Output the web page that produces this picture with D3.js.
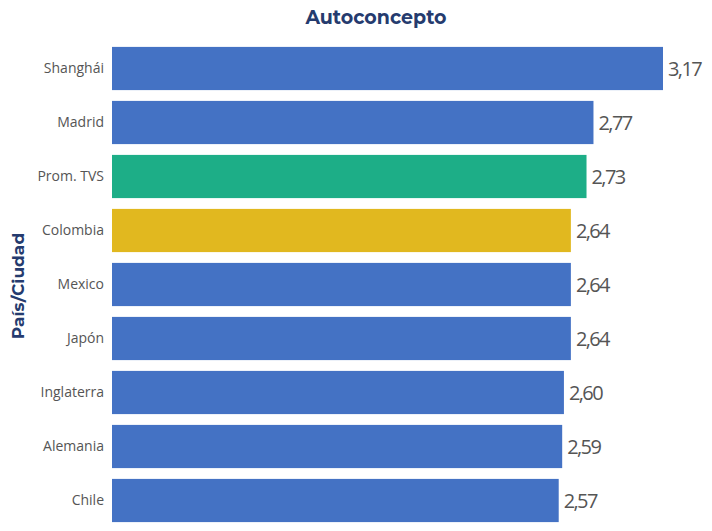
<!DOCTYPE html>
<html>
<head>
<meta charset="utf-8">
<script src="https://cdn.jsdelivr.net/npm/d3@7"></script>
<style>
  body { margin: 0; background: #fff; }
  svg { display: block; }
</style>
</head>
<body>
<svg id="chart" width="712" height="531"></svg>
<script>
const categories = ["Shanghái", "Madrid", "Prom. TVS", "Colombia", "Mexico", "Japón", "Inglaterra", "Alemania", "Chile"];
const values = [3.17, 2.77, 2.73, 2.64, 2.64, 2.64, 2.60, 2.59, 2.57];
const barColors = ["#4472C4", "#4472C4", "#1DAE87", "#E1B81F", "#4472C4", "#4472C4", "#4472C4", "#4472C4", "#4472C4"];

const svg = d3.select("#chart");
const x0 = 112;

const x = d3.scaleLinear().domain([0, 3.17]).range([x0, 663]);
const y = d3.scaleBand().domain(categories).range([41.5, 527.5]).paddingInner(0.2).paddingOuter(0.1);

const fmt = v => d3.format(".2f")(v).replace(".", ",");

svg.append("text")
  .attr("x", 376).attr("y", 24)
  .attr("text-anchor", "middle")
  .attr("font-family", "Montserrat, Lato, 'Open Sans', sans-serif")
  .attr("font-weight", "bold")
  .attr("font-size", 19)
  .attr("fill", "#253B6E")
  .text("Autoconcepto");

svg.append("text")
  .attr("transform", "translate(24,286) rotate(-90)")
  .attr("text-anchor", "middle")
  .attr("font-family", "Montserrat, Lato, 'Open Sans', sans-serif")
  .attr("font-weight", "bold")
  .attr("font-size", 17)
  .attr("fill", "#253B6E")
  .text("País/Ciudad");

svg.selectAll("rect.bar")
  .data(categories)
  .join("rect")
  .attr("class", "bar")
  .attr("x", x0)
  .attr("y", d => y(d))
  .attr("width", (d, i) => x(values[i]) - x0)
  .attr("height", y.bandwidth())
  .attr("fill", (d, i) => barColors[i]);

const yAxis = svg.append("g")
  .attr("transform", `translate(${x0 - 4},0)`)
  .call(d3.axisLeft(y).tickSize(0).tickPadding(4));
yAxis.select(".domain").remove();
yAxis.selectAll("text")
  .attr("font-family", "'Open Sans', sans-serif")
  .attr("font-size", 14)
  .attr("fill", "#555");

svg.selectAll("text.val")
  .data(categories)
  .join("text")
  .attr("class", "val")
  .attr("x", (d, i) => x(values[i]) + 5)
  .attr("y", d => y(d) + y.bandwidth() / 2)
  .attr("dy", "0.35em")
  .attr("font-family", "'Open Sans', sans-serif")
  .attr("font-size", 20)
  .attr("letter-spacing", "-1.6")
  .attr("fill", "#555")
  .text((d, i) => fmt(values[i]));
</script>
</body>
</html>
